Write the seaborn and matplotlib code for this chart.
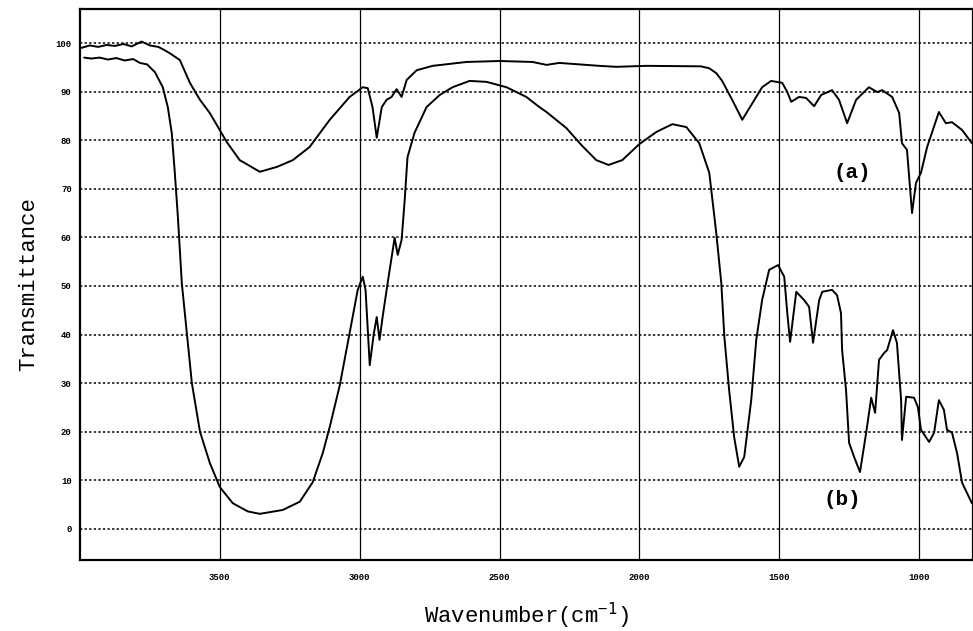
import numpy as np
import pandas as pd
import matplotlib
matplotlib.use('Agg')
import matplotlib.pyplot as plt
import seaborn as sns

# 曲线 (a)：波数 / 透过率
wn_a = [3995, 3965, 3935, 3905, 3875, 3845, 3815, 3780, 3750, 3720, 3700, 3679,
        3643, 3607, 3571, 3536, 3475, 3429, 3357, 3296, 3239, 3179, 3107, 3036,
        2989, 2971, 2954, 2939, 2921, 2904, 2886, 2868, 2850, 2832, 2796, 2739,
        2618, 2500, 2382, 2332, 2286, 2143, 2082, 1975, 1780, 1750, 1725, 1704,
        1668, 1632, 1596, 1561, 1529, 1489, 1471, 1457, 1429, 1404, 1375, 1350,
        1311, 1286, 1257, 1225, 1179, 1150, 1132, 1096, 1071, 1061, 1043, 1025,
        1011, 993, 971, 954, 929, 904, 882, 846, 811]
t_a = [99.0, 99.5, 99.2, 99.6, 99.4, 99.8, 99.3, 100.3, 99.5, 99.2, 98.6, 97.9,
       96.5, 91.8, 88.3, 85.6, 79.6, 75.9, 73.5, 74.5, 75.9, 78.6, 84.2, 88.9,
       90.9, 90.7, 86.8, 80.5, 86.8, 88.3, 88.9, 90.5, 88.9, 92.4, 94.4, 95.3,
       96.1, 96.3, 96.1, 95.5, 95.9, 95.3, 95.1, 95.3, 95.2, 94.8, 93.8, 92.2,
       88.3, 84.2, 87.6, 90.9, 92.2, 91.8, 89.9, 87.9, 88.9, 88.7, 87.0, 89.3,
       90.3, 88.3, 83.5, 88.3, 90.9, 89.9, 90.3, 88.9, 85.6, 79.4, 78.0, 65.0,
       71.2, 73.3, 78.6, 81.5, 85.8, 83.5, 83.7, 82.1, 79.4]

# 曲线 (b)
wn_b = [3985, 3960, 3930, 3900, 3870, 3840, 3810, 3786, 3760, 3732, 3704, 3686,
        3672, 3661, 3650, 3636, 3618, 3600, 3571, 3536, 3500, 3454, 3400, 3357,
        3275, 3214, 3168, 3132, 3107, 3071, 3036, 3007, 2989, 2979, 2964, 2950,
        2939, 2929, 2918, 2900, 2875, 2864, 2850, 2839, 2829, 2804, 2761, 2714,
        2668, 2607, 2546, 2475, 2404, 2357, 2332, 2261, 2204, 2154, 2110, 2061,
        2000, 1939, 1882, 1832, 1786, 1750, 1725, 1707, 1696, 1679, 1661, 1643,
        1625, 1600, 1582, 1561, 1536, 1504, 1482, 1471, 1461, 1439, 1411, 1393,
        1379, 1357, 1346, 1311, 1293, 1279, 1275, 1261, 1250, 1232, 1211, 1189,
        1171, 1157, 1143, 1125, 1114, 1093, 1079, 1064, 1061, 1046, 1018, 1004,
        993, 964, 946, 929, 911, 900, 882, 864, 846, 811]
t_b = [97.0, 96.8, 97.0, 96.6, 96.9, 96.4, 96.7, 95.9, 95.6, 94.0, 90.9, 86.8,
       81.5, 73.3, 64.2, 50.6, 40.3, 30.0, 20.0, 13.6, 8.6, 5.3, 3.6, 3.1,
       3.9, 5.6, 9.6, 15.6, 21.0, 29.6, 40.3, 49.2, 51.9, 49.2, 33.7, 40.0,
       43.6, 38.9, 43.6, 50.6, 59.9, 56.4, 59.5, 67.7, 76.5, 81.5, 86.8, 89.3,
       90.9, 92.2, 92.0, 90.9, 88.9, 86.8, 85.8, 82.5, 78.8, 75.9, 74.9, 75.9,
       79.2, 81.7, 83.3, 82.7, 79.4, 73.3, 60.9, 50.6, 39.5, 28.6, 18.9, 12.8,
       14.8, 26.5, 38.9, 47.1, 53.3, 54.3, 51.9, 44.4, 38.5, 48.8, 47.1, 45.7,
       38.3, 47.1, 48.8, 49.2, 48.1, 44.4, 36.8, 28.6, 17.7, 14.8, 11.7, 19.8,
       27.0, 23.9, 34.8, 36.2, 36.8, 40.9, 38.3, 26.5, 18.3, 27.2, 27.0, 25.1,
       20.4, 17.9, 19.8, 26.5, 24.5, 20.4, 19.8, 15.6, 9.5, 5.3]

x_ticks = [3500, 3000, 2500, 2000, 1500, 1000]
y_ticks = [0, 10, 20, 30, 40, 50, 60, 70, 80, 90, 100]

df_a = pd.DataFrame({'wn': wn_a, 'T': t_a})
df_b = pd.DataFrame({'wn': wn_b, 'T': t_b})

sns.set_style('white')
plt.rcParams['font.family'] = ['Liberation Mono', 'DejaVu Sans Mono']
plt.rcParams['text.color'] = 'black'
plt.rcParams['axes.labelcolor'] = 'black'
plt.rcParams['xtick.color'] = 'black'
plt.rcParams['ytick.color'] = 'black'

fig = plt.figure(figsize=(9.73, 6.31), dpi=100)
ax = fig.add_axes([80 / 973, 1 - 560 / 631, 893 / 973, 551 / 631])

# 网格：竖线实线，横线虚点
for x in x_ticks:
    ax.axvline(x, color='black', lw=0.9, zorder=1)
for y in y_ticks:
    ax.axhline(y, color='black', lw=1.1, ls=(0, (1.5, 1.5)), zorder=1)

sns.lineplot(data=df_a, x='wn', y='T', sort=False, color='black', lw=1.4, ax=ax, zorder=3)
sns.lineplot(data=df_b, x='wn', y='T', sort=False, color='black', lw=1.4, ax=ax, zorder=3)

ax.set_xlim(4000, 807)
ax.set_ylim(-6.4, 107)
ax.set_xticks(x_ticks)
ax.set_yticks(y_ticks)
ax.set_xticklabels([str(v) for v in x_ticks], fontsize=6.5, fontweight='bold')
ax.set_yticklabels([str(v) for v in y_ticks], fontsize=6.5, fontweight='bold')
ax.tick_params(axis='both', length=0)
ax.tick_params(axis='x', pad=9)
ax.tick_params(axis='y', pad=6)

for s in ax.spines.values():
    s.set_color('black')
    s.set_linewidth(1.6)

ax.text(1239, 73.3, '(a)', fontsize=15, fontweight='bold', ha='center', va='center')
ax.text(1275, 6.0, '(b)', fontsize=15, fontweight='bold', ha='center', va='center')

ax.set_xlabel(r'Wavenumber(cm$^{\mathtt{-1}}$)', fontsize=16, labelpad=14)
ax.set_ylabel('Transmittance', fontsize=16, labelpad=12)

fig.savefig('out.png', dpi=100)
